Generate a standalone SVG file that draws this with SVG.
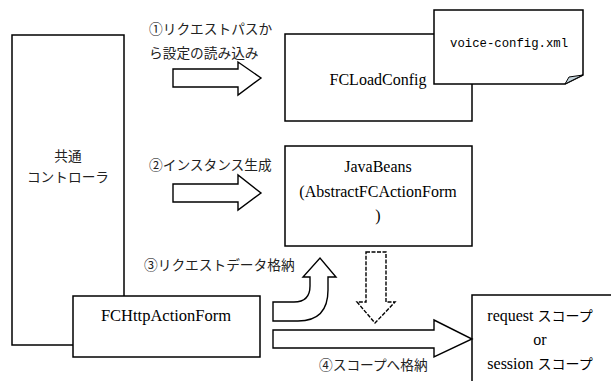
<svg xmlns="http://www.w3.org/2000/svg" width="611" height="381" viewBox="0 0 611 381">
<style>
.box{fill:#fff;stroke:#000;stroke-width:1.5}
.arr{fill:#fff;stroke:#000;stroke-width:1.4;stroke-linejoin:miter}
.jp{font-family:'Noto Sans CJK JP','Noto Sans',sans-serif;font-size:13.7px;fill:#222}
.en{font-size:16px;fill:#000;text-anchor:middle}
.jps{font-family:'Noto Sans CJK JP',sans-serif;font-size:14px}
.mono{font-family:'Liberation Mono','DejaVu Sans Mono',monospace;font-size:12.3px;fill:#000}
</style>
<rect width="611" height="381" fill="#fff"/>
<g id="controller">
<rect class="box" x="12" y="35" width="112" height="310"/>
<text class="jp" x="68" y="161" text-anchor="middle">共通</text>
<text class="jp" x="68" y="182" text-anchor="middle">コントローラ</text>
</g>
<g font-family="Liberation Serif, Times New Roman, serif">
<g id="fcloadconfig">
<rect class="box" x="285" y="34" width="187" height="87"/>
<text class="en" x="378" y="85">FCLoadConfig</text>
</g>
<g id="voice-config">
<path class="box" d="M434,10 H583 V75 L565,84 H434 Z"/>
<polygon points="565,84 583,75 569,77" fill="#c5d5dd" stroke="#000" stroke-width="1"/>
<text class="mono" x="450" y="47">voice-config.xml</text>
</g>
<g id="javabeans">
<rect class="box" x="285" y="146" width="187" height="100"/>
<text class="en" x="378" y="172">JavaBeans</text>
<text class="en" x="378" y="197">(AbstractFCActionForm</text>
<text class="en" x="378" y="221">)</text>
</g>
<g id="fchttpactionform">
<rect class="box" x="73" y="296" width="187" height="61"/>
<text class="en" x="166" y="321" style="font-size:16.5px">FCHttpActionForm</text>
</g>
<g id="scope">
<rect class="box" x="472" y="295" width="150" height="100"/>
<text class="en" x="540" y="321">request <tspan class="jps">スコープ</tspan></text>
<text class="en" x="540" y="345">or</text>
<text class="en" x="540" y="369">session <tspan class="jps">スコープ</tspan></text>
</g>
</g>
<g id="connectors">
<polygon class="arr" points="173,69 238,69 238,62 261,78 238,95 238,87 173,87"/>
<text class="jp" x="149" y="34">①リクエストパスか</text>
<text class="jp" x="149" y="58">ら設定の読み込み</text>
<polygon class="arr" points="173,184 238,184 238,175 261,193 238,210 238,202 173,202"/>
<text class="jp" x="149" y="170">②インスタンス生成</text>
<path class="arr" d="M273,302 L294,302 Q310,302 310,286 L310,277 L303,277 L320,258 L336,277 L328,277 L328,290 Q328,321 298,321 L273,321 Z"/>
<text class="jp" x="144" y="270">③リクエストデータ格納</text>
<polygon class="arr" points="366,252 386,252 386,302 395,302 375,323 357,302 366,302" style="stroke-dasharray:4 1.5"/>
<polygon class="arr" points="273,330 434,330 434,320 472,339 434,357 434,348 273,348"/>
<text class="jp" x="319" y="370">④スコープへ格納</text>
</g>
</svg>
